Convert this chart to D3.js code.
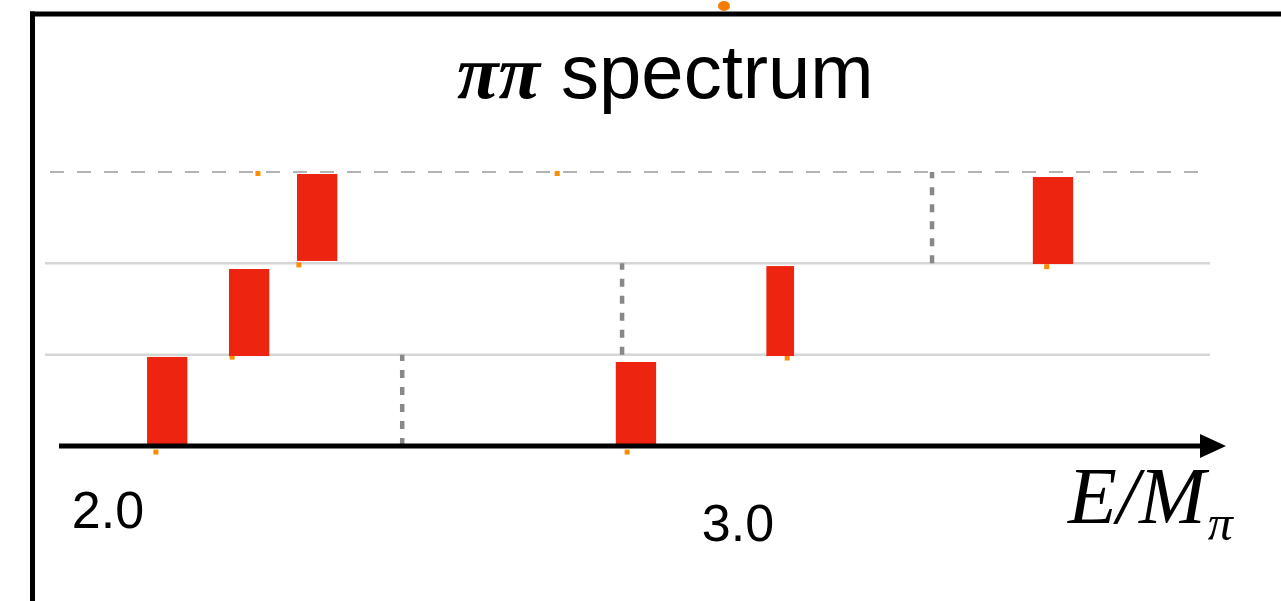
<!DOCTYPE html>
<html>
<head>
<meta charset="utf-8">
<script src="https://cdn.jsdelivr.net/npm/d3@7"></script>
<style>
  html, body { margin: 0; padding: 0; background: #fff; }
  svg { display: block; }
</style>
</head>
<body>
<svg id="chart" width="1281" height="601"></svg>
<script>
// Energy levels (E/M_pi) of the red bars, and their half widths
const barCenters = [2.094, 2.224, 2.332, 2.838, 3.067, 3.500];
const barHalfWidths = [0.032, 0.032, 0.032, 0.032, 0.022, 0.032];
// Vertical extent of each bar, in level units
const barLow  = [0, 0.985, 2.026, 0, 0.985, 1.993];
const barHigh = [0.975, 1.938, 2.978, 0.920, 1.970, 2.945];

// Thresholds (dotted vertical lines)
const thresholds = [2.467, 2.816, 3.308];
const thresholdLow = [0, 1, 2];
const thresholdHigh = [1, 2, 3];

// Small orange markers (hidden points behind the bars)
const markX = [2.076, 2.197, 2.303, 2.824, 3.078, 3.490, 2.238, 2.713];
const markLevel = [-0.05, 0.99, 2.0, -0.05, 0.98, 1.98, 3, 3];

// Tick labels
const tickValues = [2.0, 3.0];
const tickLabels = ["2.0", "3.0"];

const svg = d3.select("#chart");

// Scales
const x = d3.scaleLinear().domain([2.0, 3.0]).range([108, 738]);
const y = d3.scaleLinear().domain([0, 3]).range([446, 172]);

// Frame (slide box)
svg.append("line")
    .attr("x1", 32.5).attr("x2", 32.5).attr("y1", 11.5).attr("y2", 601)
    .attr("stroke", "#000").attr("stroke-width", 5);
svg.append("line")
    .attr("x1", 30).attr("x2", 1281).attr("y1", 14).attr("y2", 14)
    .attr("stroke", "#000").attr("stroke-width", 5);

// little orange blob on the top edge
svg.append("ellipse")
    .attr("cx", 724).attr("cy", 6).attr("rx", 6).attr("ry", 5)
    .attr("fill", "#f57c00");

// Title
const title = svg.append("text")
    .attr("x", 457).attr("y", 98)
    .attr("font-size", 76);
title.append("tspan")
    .attr("font-family", "'Liberation Serif', 'DejaVu Serif', serif")
    .attr("font-style", "italic").attr("font-weight", "bold")
    .text("ππ");
title.append("tspan")
    .attr("font-family", "'Liberation Sans', Arial, sans-serif")
    .text(" spectrum");

// Level lines
const levels = [1, 2];
svg.selectAll(".level")
    .data(levels)
    .enter().append("line")
    .attr("class", "level")
    .attr("x1", 45).attr("x2", 1210)
    .attr("y1", d => y(d)).attr("y2", d => y(d))
    .attr("stroke", "#d6d6d6").attr("stroke-width", 2.5);

svg.append("line")
    .attr("x1", 50).attr("x2", 1200)
    .attr("y1", y(3)).attr("y2", y(3))
    .attr("stroke", "#9a9a9a").attr("stroke-width", 1.6)
    .attr("stroke-dasharray", "14 13");

// Thresholds
svg.selectAll(".threshold")
    .data(thresholds)
    .enter().append("line")
    .attr("class", "threshold")
    .attr("x1", d => x(d)).attr("x2", d => x(d))
    .attr("y1", (d, i) => y(thresholdLow[i])).attr("y2", (d, i) => y(thresholdHigh[i]))
    .attr("stroke", "#888").attr("stroke-width", 4.5)
    .attr("stroke-dasharray", "8 9");

// Orange markers
svg.selectAll(".mark")
    .data(markX)
    .enter().append("rect")
    .attr("class", "mark")
    .attr("x", d => x(d) - 2.5)
    .attr("y", (d, i) => y(markLevel[i]) - 1)
    .attr("width", 5).attr("height", 5)
    .attr("fill", "#ff8c00");

// Red bars
svg.selectAll(".bar")
    .data(barCenters)
    .enter().append("rect")
    .attr("class", "bar")
    .attr("x", (d, i) => x(d - barHalfWidths[i]))
    .attr("width", (d, i) => x(d + barHalfWidths[i]) - x(d - barHalfWidths[i]))
    .attr("y", (d, i) => y(barHigh[i]))
    .attr("height", (d, i) => y(barLow[i]) - y(barHigh[i]))
    .attr("fill", "#ed2410");

// Axis with arrow
svg.append("line")
    .attr("x1", 59).attr("x2", 1204)
    .attr("y1", y(0)).attr("y2", y(0))
    .attr("stroke", "#000").attr("stroke-width", 5);
svg.append("path")
    .attr("d", `M1200,${y(0) - 12} L1226,${y(0)} L1200,${y(0) + 12} Z`)
    .attr("fill", "#000");

// Tick labels
const labelY = [528, 541];
svg.selectAll(".tick-label")
    .data(tickValues)
    .enter().append("text")
    .attr("class", "tick-label")
    .attr("x", d => x(d))
    .attr("y", (d, i) => labelY[i])
    .attr("text-anchor", "middle")
    .attr("font-family", "'Liberation Sans', Arial, sans-serif")
    .attr("font-size", 52)
    .text((d, i) => tickLabels[i]);

// Axis title E/M_pi
const axTitle = svg.append("text")
    .attr("x", 1068).attr("y", 523)
    .attr("font-family", "'Liberation Serif', 'Times New Roman', serif")
    .attr("font-style", "italic")
    .attr("font-size", 80);
axTitle.append("tspan").text("E/M");
axTitle.append("tspan")
    .attr("font-size", 50).attr("dy", 17).attr("dx", 2)
    .text("π");
</script>
</body>
</html>
